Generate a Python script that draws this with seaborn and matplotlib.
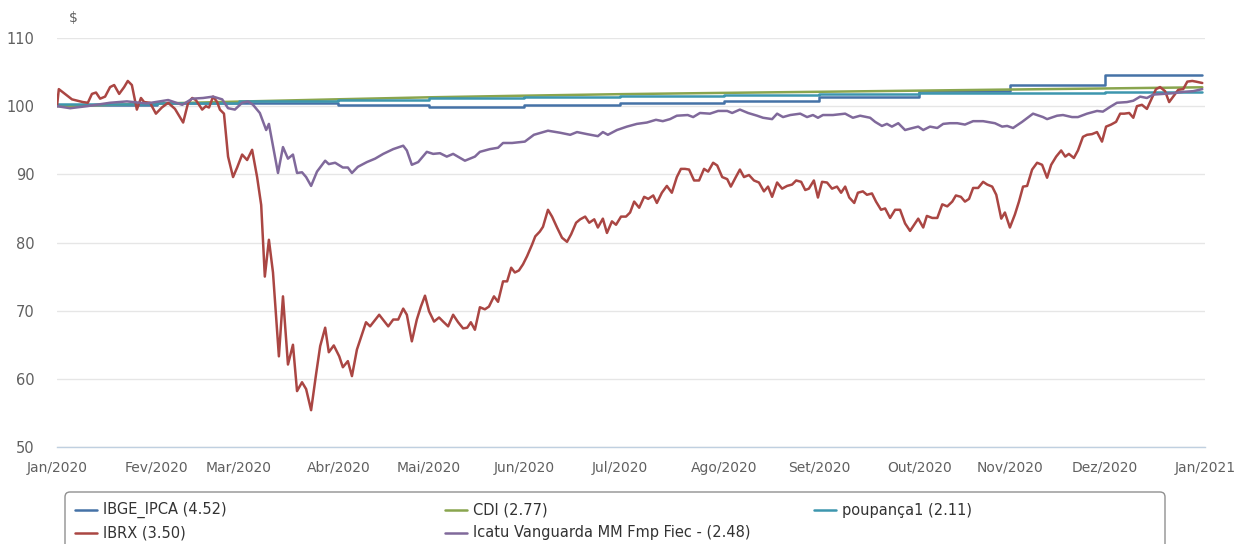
import matplotlib
matplotlib.use("Agg")
import matplotlib.pyplot as plt
import seaborn as sns
import pandas as pd
from matplotlib.lines import Line2D
from matplotlib.patches import FancyBboxPatch
from matplotlib.transforms import IdentityTransform

# ---------------- data (x = trading-day index within 2020) ----------------
month_labels = ["Jan/2020", "Fev/2020", "Mar/2020", "Abr/2020", "Mai/2020", "Jun/2020",
                "Jul/2020", "Ago/2020", "Set/2020", "Out/2020", "Nov/2020", "Dez/2020", "Jan/2021"]
month_pos = [0, 22, 40, 62, 82, 103, 124, 147, 168, 190, 210, 231, 253]
last_day = 252.4

series_names = ["IBGE_IPCA (4.52)", "CDI (2.77)", "poupança1 (2.11)",
                "IBRX (3.50)", "Icatu Vanguarda MM Fmp Fiec - (2.48)"]
series_colors = ["#4572A7", "#89A54E", "#3D96AE", "#AA4643", "#80699B"]

# IPCA index level for each month (step series)
ipca_month = [100.21, 100.46, 100.53, 100.22, 99.84, 100.10,
              100.46, 100.70, 101.34, 102.21, 103.12, 104.52]
# poupança index level for each month (step series)
poup_month = [100.26, 100.51, 100.74, 100.95, 101.15, 101.33,
              101.49, 101.63, 101.75, 101.87, 101.99, 102.11]
# CDI accumulated at each month start
cdi_x = [0, 22, 40, 62, 82, 103, 124, 147, 168, 190, 210, 231, 252.4]
cdi_y = [100.0, 100.38, 100.67, 101.01, 101.30, 101.54, 101.76, 101.95,
         102.11, 102.28, 102.44, 102.60, 102.77]

ibrx_x = [0, 0.4, 3.3, 5.7, 6.8, 7.7, 8.6, 9.5, 10.6, 11.7, 12.6, 13.7, 14.8, 15.6, 16.5,
          17.6, 18.5, 19.2, 20.5, 21.8, 23.1, 24.5, 26.0, 27.8, 28.9, 29.8, 30.6, 32.0, 32.8,
          33.5, 34.4, 35.3, 35.9, 36.8, 37.7, 38.8, 39.7, 40.8, 41.9, 43.0, 44.1, 45.0, 45.8,
          46.7, 47.6, 48.9, 49.8, 50.9, 52.0, 52.9, 54.0, 54.9, 56.0, 57.1, 58.0, 59.1, 59.9,
          61.0, 62.2, 63.0, 64.1, 65.0, 66.1, 67.2, 68.1, 69.0, 71.0, 73.0, 74.1, 75.2, 76.3,
          77.1, 78.2, 79.3, 80.2, 81.1, 82.0, 83.1, 84.2, 85.1, 86.2, 87.3, 88.4, 89.5, 90.4,
          91.2, 92.1, 93.2, 94.3, 95.2, 96.3, 97.2, 98.3, 99.2, 100.1, 100.9, 101.8, 102.7,
          103.6, 104.7, 105.4, 106.4, 107.1, 108.2, 109.1, 110.2, 111.3, 112.4, 113.3, 114.4,
          115.3, 116.4, 117.3, 118.4, 119.2, 120.3, 121.2, 122.3, 123.2, 124.3, 125.4, 126.3,
          127.2, 128.3, 129.4, 130.3, 131.4, 132.2, 133.3, 134.4, 135.5, 136.6, 137.5, 138.4,
          139.3, 140.4, 141.5, 142.6, 143.5, 144.6, 145.5, 146.6, 147.7, 148.5, 149.6, 150.5,
          151.4, 152.5, 153.6, 154.7, 155.8, 156.7, 157.6, 158.7, 159.8, 160.9, 162.0, 162.9,
          164.0, 164.9, 165.7, 166.8, 167.7, 168.6, 169.7, 170.8, 171.9, 172.8, 173.7, 174.6,
          175.7, 176.5, 177.6, 178.5, 179.6, 180.5, 181.6, 182.5, 183.6, 184.7, 185.8, 186.9,
          188.0, 188.9, 189.8, 190.9, 191.7, 192.9, 194.0, 195.1, 196.2, 197.3, 198.1, 199.2,
          200.1, 201.0, 201.9, 203.0, 204.1, 205.0, 206.1, 207.0, 208.1, 208.9, 210.0, 211.1,
          212.0, 212.9, 213.8, 214.9, 216.0, 217.1, 218.2, 219.1, 220.2, 221.3, 222.2, 223.0,
          224.1, 225.0, 226.1, 227.0, 228.1, 229.2, 230.3, 231.2, 232.3, 233.4, 234.3, 235.2,
          236.3, 237.2, 238.0, 239.1, 240.2, 241.1, 242.2, 243.1, 244.2, 245.1, 246.0, 247.1,
          248.2, 249.1, 250.2, 251.0, 252.4]
ibrx_y = [100.0, 102.5, 101.0, 100.6, 100.5, 101.8, 102.0, 101.1, 101.4, 102.8, 103.1, 101.8,
          102.8, 103.7, 103.1, 99.5, 101.2, 100.6, 100.5, 98.9, 99.8, 100.5, 99.6, 97.6, 100.5,
          101.2, 100.9, 99.5, 100.0, 99.8, 101.4, 100.6, 99.5, 98.9, 92.6, 89.6, 91.0, 92.9,
          92.1, 93.6, 89.6, 85.5, 75.0, 80.4, 75.6, 63.3, 72.1, 62.1, 65.0, 58.2, 59.5, 58.5,
          55.4, 60.7, 64.8, 67.5, 63.9, 64.9, 63.3, 61.7, 62.6, 60.4, 64.3, 66.5, 68.3, 67.7,
          69.4, 67.7, 68.7, 68.7, 70.3, 69.4, 65.5, 68.7, 70.6, 72.2, 69.9, 68.4, 69.0, 68.4,
          67.7, 69.4, 68.3, 67.4, 67.5, 68.3, 67.2, 70.5, 70.2, 70.6, 72.1, 71.3, 74.3, 74.3,
          76.3, 75.6, 75.9, 76.8, 78.0, 79.7, 80.9, 81.6, 82.3, 84.8, 83.8, 82.2, 80.7, 80.1,
          81.2, 82.9, 83.4, 83.8, 82.9, 83.4, 82.2, 83.5, 81.4, 83.1, 82.6, 83.8, 83.8, 84.4,
          86.0, 85.1, 86.7, 86.4, 86.9, 85.8, 87.3, 88.3, 87.3, 89.6, 90.8, 90.8, 90.7, 89.1,
          89.1, 90.8, 90.4, 91.7, 91.3, 89.6, 89.3, 88.2, 89.6, 90.7, 89.6, 89.9, 89.1, 88.8,
          87.5, 88.2, 86.7, 88.8, 87.9, 88.3, 88.5, 89.1, 88.9, 87.7, 87.9, 89.1, 86.6, 88.9,
          88.8, 87.9, 88.2, 87.3, 88.2, 86.6, 85.8, 87.3, 87.5, 87.0, 87.2, 86.0, 84.8, 85.0,
          83.6, 84.8, 84.8, 82.8, 81.7, 82.6, 83.5, 82.2, 83.9, 83.6, 83.6, 85.6, 85.3, 86.0,
          86.9, 86.7, 86.0, 86.4, 88.0, 88.0, 88.9, 88.5, 88.2, 87.0, 83.5, 84.4, 82.2, 84.1,
          86.0, 88.2, 88.3, 90.7, 91.7, 91.4, 89.5, 91.4, 92.6, 93.5, 92.6, 93.0, 92.4, 93.5,
          95.5, 95.8, 95.9, 96.2, 94.8, 97.0, 97.3, 97.7, 98.9, 98.9, 99.0, 98.3, 100.0, 100.2,
          99.6, 100.9, 102.5, 102.8, 102.2, 100.6, 101.4, 102.4, 102.5, 103.6, 103.7, 103.6,
          103.4]

icatu_x = [0, 2.9, 6.6, 11.7, 15.4, 19.8, 24.5, 27.6, 29.8, 32.2, 34.4, 36.4, 37.7, 39.2,
           40.8, 42.1, 43.2, 44.7, 46.1, 46.7, 48.7, 49.8, 50.9, 52.0, 52.9, 54.0, 54.9, 56.0,
           57.3, 59.1, 59.9, 61.3, 63.0, 64.1, 65.0, 66.3, 68.3, 70.1, 71.9, 74.1, 76.3, 77.1,
           78.2, 79.6, 81.5, 82.9, 84.4, 85.9, 87.3, 89.9, 92.1, 93.2, 95.4, 97.2, 98.3, 100.3,
           103.1, 105.1, 108.2, 110.9, 113.1, 114.6, 116.8, 119.2, 120.3, 121.4, 123.4, 125.6,
           127.8, 130.0, 132.0, 133.5, 135.1, 136.6, 139.0, 140.2, 141.7, 143.9, 145.7, 147.7,
           148.8, 150.5, 152.3, 154.3, 155.6, 157.6, 158.7, 160.0, 161.6, 163.8, 165.3, 166.6,
           167.7, 168.8, 171.0, 173.7, 175.4, 177.0, 179.2, 180.3, 181.8, 182.9, 184.0, 185.4,
           186.9, 188.0, 189.8, 190.9, 192.4, 194.0, 195.3, 196.8, 198.4, 200.1, 201.9, 204.1,
           206.7, 208.3, 209.4, 210.7, 212.7, 215.1, 217.3, 218.2, 220.4, 221.7, 223.7, 225.0,
           227.0, 229.2, 230.5, 232.1, 233.6, 235.8, 237.2, 238.7, 240.2, 241.6, 243.8, 246.0,
           248.2, 250.4, 252.4]
icatu_y = [100.0, 99.7, 100.0, 100.5, 100.7, 100.4, 100.9, 100.2, 101.1, 101.2, 101.4, 101.0,
           99.7, 99.5, 100.5, 100.7, 100.2, 99.0, 96.5, 97.4, 90.2, 94.0, 92.3, 92.9, 90.2, 90.3,
           89.6, 88.3, 90.4, 92.0, 91.5, 91.7, 91.0, 91.0, 90.2, 91.1, 91.8, 92.3, 93.0, 93.7,
           94.2, 93.5, 91.4, 91.8, 93.3, 93.0, 93.1, 92.6, 93.0, 92.0, 92.6, 93.3, 93.7, 93.9,
           94.6, 94.6, 94.8, 95.8, 96.4, 96.1, 95.8, 96.2, 95.9, 95.6, 96.2, 95.8, 96.5, 97.0,
           97.4, 97.6, 98.0, 97.8, 98.1, 98.6, 98.7, 98.4, 99.0, 98.9, 99.3, 99.3, 99.0, 99.5,
           99.0, 98.6, 98.3, 98.1, 98.9, 98.4, 98.7, 98.9, 98.4, 98.7, 98.3, 98.7, 98.7, 98.9,
           98.3, 98.6, 98.3, 97.7, 97.1, 97.4, 97.0, 97.5, 96.5, 96.7, 97.0, 96.5, 97.0, 96.8,
           97.4, 97.5, 97.5, 97.3, 97.8, 97.8, 97.5, 97.0, 97.1, 96.8, 97.7, 98.9, 98.4, 98.1,
           98.6, 98.7, 98.4, 98.4, 98.9, 99.3, 99.2, 99.9, 100.5, 100.6, 100.8, 101.4, 101.2,
           101.7, 101.8, 101.9, 102.1, 102.2, 102.5]

# ---------------- figure ----------------
sns.set_style("white")
plt.rcParams["font.family"] = ["DejaVu Sans"]

W, H = 1240, 544
fig = plt.figure(figsize=(W / 100, H / 100), dpi=100)
ax = fig.add_axes([57 / W, (H - 447) / H, 1148 / W, 409 / H])

step_x = month_pos[:-1] + [last_day]
LW = 1.8

sns.lineplot(x=step_x, y=ipca_month + [ipca_month[-1]], ax=ax, color=series_colors[0],
             lw=LW, drawstyle="steps-post", estimator=None, sort=False)
sns.lineplot(x=cdi_x, y=cdi_y, ax=ax, color=series_colors[1], lw=LW,
             estimator=None, sort=False)
sns.lineplot(x=step_x, y=poup_month + [poup_month[-1]], ax=ax, color=series_colors[2],
             lw=LW, drawstyle="steps-post", estimator=None, sort=False)
sns.lineplot(x=ibrx_x, y=ibrx_y, ax=ax, color=series_colors[3], lw=LW,
             estimator=None, sort=False)
sns.lineplot(x=icatu_x, y=icatu_y, ax=ax, color=series_colors[4], lw=LW,
             estimator=None, sort=False)

ax.set_xlim(0, 253)
ax.set_ylim(50, 110)
ax.set_yticks([50, 60, 70, 80, 90, 100, 110])
ax.set_xticks(month_pos)
ax.set_xticklabels(month_labels)
ax.set_xlabel("")
ax.set_ylabel("")

ax.yaxis.grid(True, color="#E6E6E6", lw=1)
ax.xaxis.grid(False)
for s in ["top", "right", "left"]:
    ax.spines[s].set_visible(False)
ax.spines["bottom"].set_color("#C0D0E0")
ax.spines["bottom"].set_linewidth(1)
ax.tick_params(axis="x", colors="#C0D0E0", length=7, width=1, direction="out",
               labelcolor="#606060", labelsize=10, pad=3)
ax.tick_params(axis="y", length=0, labelcolor="#606060", labelsize=10.5, pad=16)

fig.text(73 / W, 1 - 18 / H, "$", color="#606060", fontsize=10, ha="center", va="center")

# ---------------- legend ----------------
box = FancyBboxPatch((65, -20), 1100, H - 492 + 20,
                     boxstyle="round,pad=0,rounding_size=5",
                     transform=IdentityTransform(), fc="white", ec="#909090", lw=1)
fig.add_artist(box)

legend_order = [0, 1, 2, 3, 4]
col_x = [75, 445, 814]
row_y = [510, 533]
for k, si in enumerate(legend_order):
    cx = col_x[k % 3]
    cy = row_y[k // 3]
    fig.add_artist(Line2D([cx / W, (cx + 22) / W], [1 - cy / H, 1 - cy / H],
                          transform=fig.transFigure, color=series_colors[si], lw=LW))
    fig.text((cx + 28) / W, 1 - cy / H, series_names[si], color="#333333",
             fontsize=10.5, ha="left", va="center")

fig.savefig("out.png", dpi=100)
